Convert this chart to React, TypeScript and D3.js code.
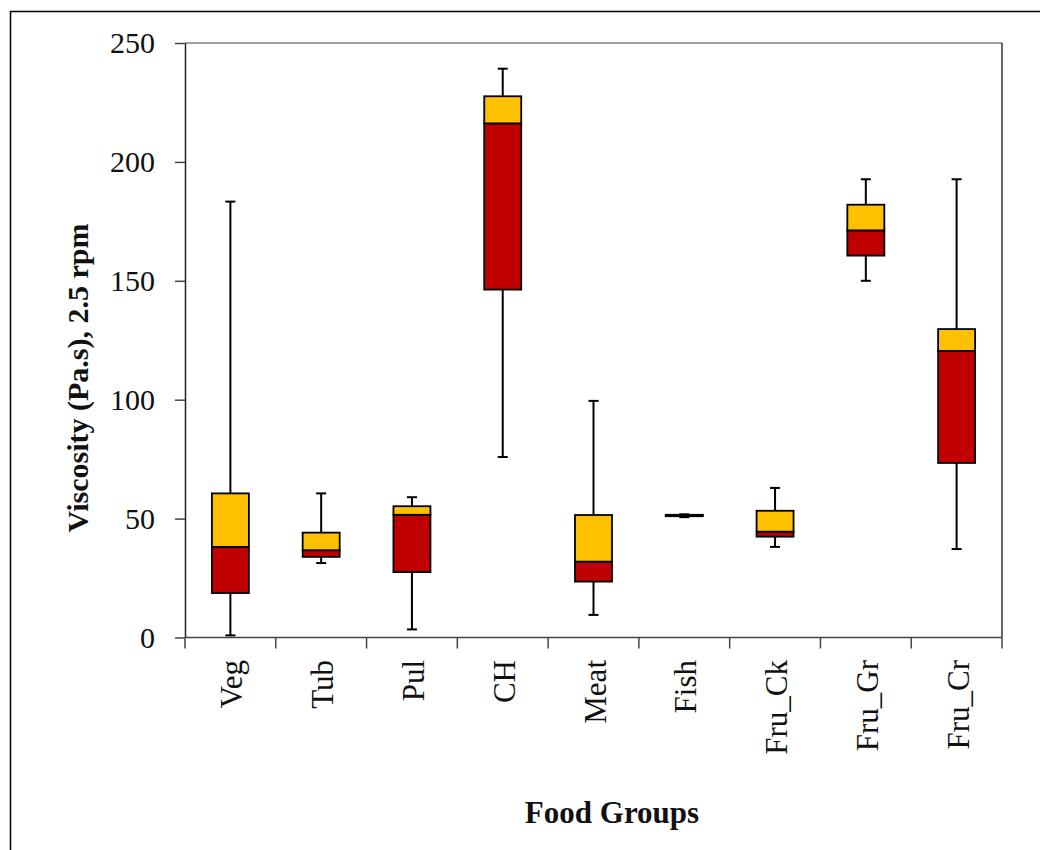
import React, { useEffect, useRef } from 'react';
import * as d3 from 'd3';

// food groups, box stats (Pa.s at 2.5 rpm)
const categories = ['Veg', 'Tub', 'Pul', 'CH', 'Meat', 'Fish', 'Fru_Ck', 'Fru_Gr', 'Fru_Cr'];
const minVals = [0.9, 31.3, 3.4, 75.9, 9.5, 50.6, 38.1, 150.0, 37.2];
const q1Vals = [18.7, 33.9, 27.5, 146.3, 23.5, 51.0, 42.4, 160.6, 73.4];
const medianVals = [38.1, 36.7, 51.6, 216.2, 31.9, 51.3, 44.5, 171.2, 120.5];
const q3Vals = [60.6, 44.1, 55.2, 227.6, 51.5, 51.6, 53.3, 182.0, 129.7];
const maxVals = [183.3, 60.6, 59.0, 239.2, 99.5, 51.8, 62.9, 192.7, 192.7];
const yTicks = [0, 50, 100, 150, 200, 250];

const FONT = '"Liberation Serif", "Times New Roman", serif';

const App = () => {
  const svgRef = useRef<SVGSVGElement>(null);

  useEffect(() => {
    const svg = d3.select(svgRef.current);
    svg.selectAll('*').remove();

    const left = 185, right = 1002, top = 43, bottom = 637.5;

    const x = d3.scaleBand().domain(categories).range([left, right]).padding(0);
    const y = d3.scaleLinear().domain([0, 250]).range([bottom, top]);

    const rows = categories.map((c, i) => ({
      cat: c,
      min: minVals[i],
      q1: q1Vals[i],
      med: medianVals[i],
      q3: q3Vals[i],
      max: maxVals[i],
    }));

    // outer frame (only top and left edges are visible)
    svg.append('path')
      .attr('d', `M10.5,850 L10.5,11.5 L1040,11.5`)
      .attr('fill', 'none')
      .attr('stroke', '#000')
      .attr('stroke-width', 1.5);

    // plot frame: top grey, right dark
    svg.append('line')
      .attr('x1', left).attr('x2', right)
      .attr('y1', top).attr('y2', top)
      .attr('stroke', '#808080').attr('stroke-width', 1.5);
    svg.append('line')
      .attr('x1', right).attr('x2', right)
      .attr('y1', top).attr('y2', bottom)
      .attr('stroke', '#333').attr('stroke-width', 1.5);

    // y axis
    const yAxis = svg.append('g')
      .attr('transform', `translate(${left},0)`)
      .call(d3.axisLeft(y).tickValues(yTicks).tickSize(10).tickPadding(20).tickSizeOuter(0));
    yAxis.select('.domain').attr('stroke', '#222').attr('stroke-width', 1.5);
    yAxis.selectAll('.tick line').attr('stroke', '#444').attr('stroke-width', 1.5);
    yAxis.selectAll('.tick text')
      .attr('fill', '#111')
      .style('font-family', FONT)
      .style('font-size', '30px');

    // x axis line and category separator ticks
    svg.append('line')
      .attr('x1', left).attr('x2', right)
      .attr('y1', bottom).attr('y2', bottom)
      .attr('stroke', '#444').attr('stroke-width', 1.5);
    const bounds = categories.map(c => x(c) as number).concat([right]);
    svg.selectAll('.xtick')
      .data(bounds)
      .enter().append('line')
      .attr('class', 'xtick')
      .attr('x1', d => d).attr('x2', d => d)
      .attr('y1', bottom).attr('y2', bottom + 11)
      .attr('stroke', '#444').attr('stroke-width', 1.5);

    svg.selectAll('.xlabel')
      .data(categories)
      .enter().append('text')
      .attr('class', 'xlabel')
      .attr('transform', d => `translate(${(x(d) as number) + x.bandwidth() / 2 + 12},660) rotate(-90)`)
      .style('text-anchor', 'end')
      .style('font-family', FONT)
      .style('font-size', '31px')
      .attr('fill', '#111')
      .text(d => d);

    // boxes
    const bw = 37;
    const cap = 10;
    const g = svg.selectAll('.box')
      .data(rows)
      .enter().append('g')
      .attr('class', 'box')
      .attr('transform', d => `translate(${(x(d.cat) as number) + x.bandwidth() / 2},0)`);

    g.append('line')
      .attr('x1', 0).attr('x2', 0)
      .attr('y1', d => y(d.max)).attr('y2', d => y(d.q3))
      .attr('stroke', '#000').attr('stroke-width', 2);
    g.append('line')
      .attr('x1', 0).attr('x2', 0)
      .attr('y1', d => y(d.q1)).attr('y2', d => y(d.min))
      .attr('stroke', '#000').attr('stroke-width', 2);
    g.append('line')
      .attr('x1', -cap / 2).attr('x2', cap / 2)
      .attr('y1', d => y(d.max)).attr('y2', d => y(d.max))
      .attr('stroke', '#000').attr('stroke-width', 2);
    g.append('line')
      .attr('x1', -cap / 2).attr('x2', cap / 2)
      .attr('y1', d => y(d.min)).attr('y2', d => y(d.min))
      .attr('stroke', '#000').attr('stroke-width', 2);

    // lower part (q1 - median) red, upper part (median - q3) amber
    g.append('rect')
      .attr('x', -bw / 2).attr('width', bw)
      .attr('y', d => y(d.med))
      .attr('height', d => y(d.q1) - y(d.med))
      .attr('fill', '#C00000')
      .attr('stroke', '#000').attr('stroke-width', 1.8);
    g.append('rect')
      .attr('x', -bw / 2).attr('width', bw)
      .attr('y', d => y(d.q3))
      .attr('height', d => y(d.med) - y(d.q3))
      .attr('fill', '#FFC000')
      .attr('stroke', '#000').attr('stroke-width', 1.8);

    // axis titles
    svg.append('text')
      .attr('transform', `translate(88,378) rotate(-90)`)
      .style('text-anchor', 'middle')
      .style('font-family', FONT)
      .style('font-size', '30px')
      .style('font-weight', 'bold')
      .attr('fill', '#111')
      .text('Viscosity (Pa.s), 2.5 rpm');

    svg.append('text')
      .attr('x', 612)
      .attr('y', 823)
      .style('text-anchor', 'middle')
      .style('font-family', FONT)
      .style('font-size', '31px')
      .style('font-weight', 'bold')
      .attr('fill', '#111')
      .text('Food Groups');
  }, []);

  return (
    <svg
      ref={svgRef}
      width={1040}
      height={850}
      style={{ position: 'absolute', left: 0, top: 0, background: '#fff' }}
    />
  );
};

export default App;
